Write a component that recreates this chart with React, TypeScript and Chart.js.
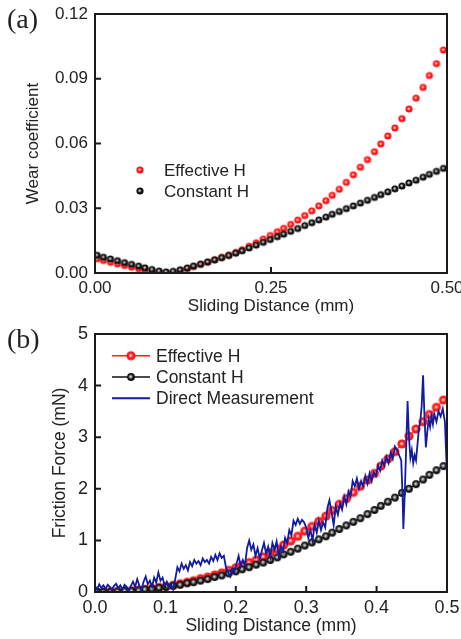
import { useEffect, useRef } from 'react';
import { Chart, registerables } from 'chart.js';

Chart.register(...registerables);
Chart.defaults.font.family = '"Liberation Sans", Arial, sans-serif';
Chart.defaults.color = '#222';

// ---------- data ----------
const slidingDistance = [
  0.003, 0.012, 0.022, 0.032, 0.042, 0.052, 0.062, 0.071, 0.081, 0.091,
  0.101, 0.111, 0.121, 0.131, 0.140, 0.150, 0.160, 0.170, 0.180, 0.190,
  0.200, 0.209, 0.219, 0.229, 0.239, 0.249, 0.259, 0.268, 0.278, 0.288,
  0.298, 0.308, 0.318, 0.328, 0.337, 0.347, 0.357, 0.367, 0.377, 0.387,
  0.397, 0.406, 0.416, 0.426, 0.436, 0.446, 0.456, 0.466, 0.475, 0.485,
  0.495,
];

const wearEffective = [
  0.0066, 0.0058, 0.0050, 0.0042, 0.0035, 0.0027, 0.0020, 0.0013, 0.0006, 0.0001,
  0.0000, 0.0001, 0.0011, 0.0020, 0.0030, 0.0040, 0.0050, 0.0061, 0.0072, 0.0083,
  0.0095, 0.0108, 0.0124, 0.0140, 0.0157, 0.0174, 0.0191, 0.0207, 0.0225, 0.0245,
  0.0266, 0.0288, 0.0311, 0.0335, 0.0360, 0.0388, 0.0420, 0.0455, 0.0490, 0.0525,
  0.0562, 0.0598, 0.0635, 0.0672, 0.0715, 0.0760, 0.0810, 0.0860, 0.0915, 0.0970,
  0.1033,
];

const wearConstant = [
  0.0082, 0.0073, 0.0065, 0.0057, 0.0048, 0.0040, 0.0032, 0.0024, 0.0016, 0.0009,
  0.0005, 0.0008, 0.0015, 0.0023, 0.0032, 0.0041, 0.0051, 0.0061, 0.0071, 0.0081,
  0.0092, 0.0103, 0.0116, 0.0129, 0.0142, 0.0155, 0.0168, 0.0180, 0.0193, 0.0206,
  0.0220, 0.0233, 0.0246, 0.0259, 0.0272, 0.0285, 0.0298, 0.0311, 0.0324, 0.0337,
  0.0350, 0.0363, 0.0376, 0.0390, 0.0403, 0.0417, 0.0430, 0.0444, 0.0457, 0.0471,
  0.0485,
];

const frictionEffective = [
  0.00, 0.00, 0.01, 0.01, 0.02, 0.03, 0.04, 0.05, 0.07, 0.09,
  0.11, 0.13, 0.16, 0.19, 0.22, 0.26, 0.29, 0.33, 0.37, 0.42,
  0.47, 0.52, 0.57, 0.62, 0.68, 0.76, 0.83, 0.91, 0.99, 1.08,
  1.18, 1.27, 1.37, 1.47, 1.58, 1.70, 1.81, 1.93, 2.05, 2.17,
  2.30, 2.44, 2.58, 2.72, 2.87, 3.02, 3.16, 3.30, 3.44, 3.58,
  3.72,
];

const frictionConstant = [
  0.00, 0.00, 0.00, 0.01, 0.02, 0.02, 0.03, 0.05, 0.06, 0.08,
  0.10, 0.12, 0.14, 0.17, 0.19, 0.22, 0.25, 0.29, 0.32, 0.36,
  0.40, 0.44, 0.48, 0.53, 0.57, 0.62, 0.67, 0.73, 0.78, 0.84,
  0.90, 0.96, 1.02, 1.08, 1.15, 1.22, 1.29, 1.36, 1.43, 1.51,
  1.59, 1.67, 1.75, 1.83, 1.92, 2.00, 2.09, 2.18, 2.27, 2.36,
  2.44,
];

const directX = [
  0.000, 0.003, 0.006, 0.009, 0.012, 0.015, 0.018, 0.021, 0.024, 0.027,
  0.030, 0.033, 0.036, 0.039, 0.042, 0.045, 0.048, 0.051, 0.054, 0.057,
  0.060, 0.063, 0.066, 0.069, 0.072, 0.075, 0.078, 0.081, 0.084, 0.087,
  0.090, 0.093, 0.096, 0.099, 0.102, 0.105, 0.108, 0.111, 0.114, 0.117,
  0.120, 0.123, 0.126, 0.129, 0.132, 0.135, 0.138, 0.141, 0.144, 0.147,
  0.150, 0.153, 0.156, 0.159, 0.162, 0.165, 0.168, 0.171, 0.174, 0.177,
  0.180, 0.183, 0.186, 0.189, 0.192, 0.195, 0.198, 0.201, 0.204, 0.207,
  0.210, 0.213, 0.216, 0.219, 0.222, 0.225, 0.228, 0.231, 0.234, 0.237,
  0.240, 0.243, 0.246, 0.249, 0.252, 0.255, 0.258, 0.261, 0.264, 0.267,
  0.270, 0.273, 0.276, 0.279, 0.282, 0.285, 0.288, 0.291, 0.294, 0.297,
  0.300, 0.303, 0.306, 0.309, 0.312, 0.315, 0.318, 0.321, 0.324, 0.327,
  0.330, 0.333, 0.336, 0.339, 0.342, 0.345, 0.348, 0.351, 0.354, 0.357,
  0.360, 0.363, 0.366, 0.369, 0.372, 0.375, 0.378, 0.381, 0.384, 0.387,
  0.390, 0.393, 0.396, 0.399, 0.402, 0.405, 0.408, 0.411, 0.414, 0.417,
  0.420, 0.423, 0.426, 0.429, 0.432, 0.435, 0.437, 0.438, 0.440, 0.442,
  0.444, 0.446, 0.448, 0.450, 0.452, 0.454, 0.456, 0.458, 0.460, 0.462,
  0.464, 0.466, 0.468, 0.470, 0.472, 0.474, 0.476, 0.478, 0.480, 0.482,
  0.485, 0.488, 0.491, 0.494, 0.497, 0.500,
];

const directY = [
  0.12, 0.05, 0.15, 0.08, 0.13, 0.06, 0.14, 0.10, 0.04, 0.12,
  0.16, 0.08, 0.13, 0.05, 0.14, 0.10, 0.03, 0.12, 0.20, 0.10,
  0.25, 0.12, 0.05, 0.20, 0.30, 0.15, 0.22, 0.10, 0.28, 0.18,
  0.38, 0.22, 0.28, 0.12, 0.20, 0.08, 0.15, 0.05, 0.25, 0.48,
  0.40, 0.55, 0.45, 0.52, 0.42, 0.58, 0.50, 0.62, 0.55, 0.60,
  0.52, 0.65, 0.58, 0.62, 0.55, 0.68, 0.60, 0.72, 0.62, 0.75,
  0.66, 0.70, 0.48, 0.38, 0.30, 0.45, 0.38, 0.55, 0.70, 0.50,
  0.62, 0.52, 0.85, 1.00, 0.82, 0.92, 0.70, 0.85, 0.65, 0.80,
  0.95, 0.75, 0.88, 0.68, 0.95, 0.82, 0.98, 0.70, 0.88, 0.78,
  1.05, 0.95, 1.20, 1.10, 1.38, 1.30, 1.42, 1.32, 1.40, 1.35,
  1.25, 1.05, 1.20, 1.00, 1.30, 1.15, 1.38, 1.20, 1.35, 1.25,
  1.62, 1.78, 1.55, 1.30, 1.65, 1.50, 1.72, 1.60, 1.85, 1.70,
  1.95, 1.85, 2.15, 2.05, 2.20, 2.00, 2.15, 2.05, 2.25, 2.10,
  2.30, 2.15, 2.32, 2.25, 2.45, 2.35, 2.55, 2.45, 2.62, 2.50,
  2.70, 2.58, 2.82, 2.75, 2.65, 2.55, 1.80, 1.22, 1.90, 2.80,
  3.70, 3.00, 2.60, 2.75, 2.50, 2.65, 2.55, 2.85, 3.15, 3.30,
  3.60, 4.20, 3.40, 2.80, 3.10, 3.35, 3.20, 3.40, 3.25, 3.45,
  3.30, 3.50, 3.40, 3.55, 3.30, 2.25,
];

const wearXTicks = [0, 0.25, 0.5];
const wearYTicks = [0, 0.03, 0.06, 0.09, 0.12];
const frictionXTicks = [0, 0.1, 0.2, 0.3, 0.4, 0.5];
const frictionYTicks = [0, 1, 2, 3, 4, 5];

// ---------- helpers ----------
function makeBall(r: number, base: string, hl: string, hlR: number) {
  const c = document.createElement('canvas');
  const s = Math.ceil(r * 2 + 2);
  c.width = s;
  c.height = s;
  const g = c.getContext('2d')!;
  const cx = s / 2;
  g.beginPath();
  g.arc(cx, cx, r, 0, Math.PI * 2);
  g.fillStyle = base;
  g.fill();
  const grad = g.createRadialGradient(cx - 0.3, cx - 0.3, 0, cx - 0.3, cx - 0.3, hlR);
  grad.addColorStop(0, hl);
  grad.addColorStop(1, 'rgba(255,255,255,0)');
  g.beginPath();
  g.arc(cx, cx, r, 0, Math.PI * 2);
  g.fillStyle = grad;
  g.fill();
  return c;
}

const framePlugin = {
  id: 'frameTicks',
  afterDraw(chart: any, _args: any, opts: any) {
    const { ctx, chartArea } = chart;
    const { left, top, right, bottom } = chartArea;
    const xs = chart.scales.x;
    const ys = chart.scales.y;
    ctx.save();
    ctx.strokeStyle = '#1a1a1a';
    ctx.lineWidth = 2;
    ctx.beginPath();
    (opts.xTicks || []).forEach((v: number) => {
      const p = xs.getPixelForValue(v);
      if (p - left < 2 || right - p < 2) return;
      ctx.moveTo(p, bottom);
      ctx.lineTo(p, bottom - 6);
    });
    (opts.yTicks || []).forEach((v: number) => {
      const p = ys.getPixelForValue(v);
      if (p - top < 2 || bottom - p < 2) return;
      ctx.moveTo(left, p);
      ctx.lineTo(left + 6, p);
    });
    ctx.stroke();
    ctx.strokeRect(left, top, right - left, bottom - top);
    ctx.restore();
  },
};

const legendPlugin = {
  id: 'innerLegend',
  afterDraw(chart: any, _args: any, opts: any) {
    if (!opts || !opts.display) return;
    const { ctx, chartArea } = chart;
    ctx.save();
    ctx.font = `${opts.fontSize}px "Liberation Sans", Arial, sans-serif`;
    ctx.textBaseline = 'middle';
    ctx.fillStyle = '#222';
    chart.data.datasets.forEach((ds: any, i: number) => {
      const y = chartArea.top + opts.y + i * opts.spacing;
      const x0 = chartArea.left + opts.x;
      if (opts.lines) {
        ctx.strokeStyle = ds.borderColor;
        ctx.lineWidth = ds.legendLineWidth || 1.5;
        ctx.beginPath();
        ctx.moveTo(x0, y);
        ctx.lineTo(x0 + opts.lineLen, y);
        ctx.stroke();
      }
      if (ds.pointStyle && typeof ds.pointStyle !== 'string') {
        const img = ds.pointStyle;
        const mx = opts.lines ? x0 + opts.lineLen / 2 : x0;
        ctx.drawImage(img, mx - img.width / 2, y - img.height / 2);
      }
      ctx.fillStyle = '#222';
      ctx.fillText(ds.label, chartArea.left + opts.textX, y + 1);
    });
    ctx.restore();
  },
};

function baseScales(o: any) {
  return {
    x: {
      type: 'linear',
      min: 0,
      max: 0.5,
      afterBuildTicks: (s: any) => {
        s.ticks = o.xTicks.map((v: number) => ({ value: v }));
      },
      ticks: {
        autoSkip: false,
        maxRotation: 0,
        padding: 5,
        color: '#222',
        font: { size: o.tickSize },
        callback: (v: any) => Number(v).toFixed(o.xDec),
      },
      grid: { display: false, drawTicks: false },
      border: { display: false },
      title: {
        display: true,
        text: 'Sliding Distance (mm)',
        color: '#222',
        font: { size: o.titleSize },
        padding: { top: 0, bottom: o.xTitlePad },
      },
      afterFit: (s: any) => {
        s.height = 47;
        s.paddingLeft = 0;
        s.paddingRight = 0;
      },
    },
    y: {
      type: 'linear',
      min: o.yMin,
      max: o.yMax,
      afterBuildTicks: (s: any) => {
        s.ticks = o.yTicks.map((v: number) => ({ value: v }));
      },
      ticks: {
        autoSkip: false,
        padding: 7,
        color: '#222',
        font: { size: o.tickSize },
        callback: (v: any) => Number(v).toFixed(o.yDec),
      },
      grid: { display: false, drawTicks: false },
      border: { display: false },
      title: {
        display: true,
        text: o.yTitle,
        color: '#222',
        font: { size: o.titleSize },
        padding: { top: o.yTitlePad, bottom: 0 },
      },
      afterFit: (s: any) => {
        s.width = 95;
        s.paddingTop = 0;
        s.paddingBottom = 0;
      },
    },
  };
}

export default function App() {
  const refA = useRef<HTMLCanvasElement>(null);
  const refB = useRef<HTMLCanvasElement>(null);

  useEffect(() => {
    const redA = makeBall(3.6, '#ff1414', 'rgba(255,225,225,1)', 2.0);
    const blackA = makeBall(3.6, '#111111', 'rgba(235,235,235,1)', 2.0);
    const redB = makeBall(4.6, '#ff1a1a', 'rgba(255,230,230,1)', 2.4);
    const blackB = makeBall(3.9, '#111111', 'rgba(245,245,245,1)', 2.6);

    const chartA = new Chart(refA.current!, {
      type: 'scatter',
      data: {
        datasets: [
          {
            label: 'Effective H',
            data: slidingDistance.map((x, i) => ({ x, y: wearEffective[i] })),
            showLine: false,
            pointStyle: redA as any,
            pointRadius: 3.6,
            borderColor: '#ff1414',
            order: 2,
          },
          {
            label: 'Constant H',
            data: slidingDistance.map((x, i) => ({ x, y: wearConstant[i] })),
            showLine: false,
            pointStyle: blackA as any,
            pointRadius: 3.6,
            borderColor: '#111',
            order: 1,
          },
        ],
      },
      options: {
        animation: false,
        responsive: false,
        events: [],
        layout: { padding: { top: 14, right: 14, left: 0, bottom: 0 } },
        plugins: {
          legend: { display: false },
          tooltip: { enabled: false },
          frameTicks: { xTicks: wearXTicks, yTicks: wearYTicks },
          innerLegend: { display: true, x: 45, y: 156, spacing: 21, textX: 69, fontSize: 17, lines: false },
        } as any,
        scales: baseScales({
          xTicks: wearXTicks,
          yTicks: wearYTicks,
          yMin: 0,
          yMax: 0.12,
          xDec: 2,
          yDec: 2,
          tickSize: 17,
          titleSize: 17,
          yTitle: 'Wear coefficient',
          yTitlePad: 23,
          xTitlePad: 3,
        }) as any,
      },
      plugins: [framePlugin, legendPlugin],
    });

    const chartB = new Chart(refB.current!, {
      type: 'scatter',
      data: {
        datasets: [
          {
            label: 'Effective H',
            data: slidingDistance.map((x, i) => ({ x, y: frictionEffective[i] })),
            showLine: true,
            borderColor: '#ff2020',
            borderWidth: 1,
            pointStyle: redB as any,
            pointRadius: 4.6,
            order: 3,
          },
          {
            label: 'Constant H',
            data: slidingDistance.map((x, i) => ({ x, y: frictionConstant[i] })),
            showLine: true,
            borderColor: '#111111',
            borderWidth: 1,
            pointStyle: blackB as any,
            pointRadius: 3.9,
            order: 2,
          },
          {
            label: 'Direct Measurement',
            data: directX.map((x, i) => ({ x, y: directY[i] })),
            showLine: true,
            borderColor: '#111ca0',
            borderWidth: 1.8,
            pointRadius: 0,
            legendLineWidth: 2,
            order: 1,
          } as any,
        ],
      },
      options: {
        animation: false,
        responsive: false,
        events: [],
        layout: { padding: { top: 14, right: 14, left: 0, bottom: 0 } },
        plugins: {
          legend: { display: false },
          tooltip: { enabled: false },
          frameTicks: { xTicks: frictionXTicks, yTicks: frictionYTicks },
          innerLegend: { display: true, x: 17, y: 21.7, spacing: 21.3, textX: 61, lineLen: 38, fontSize: 17.5, lines: true },
        } as any,
        scales: baseScales({
          xTicks: frictionXTicks,
          yTicks: frictionYTicks,
          yMin: 0,
          yMax: 5,
          xDec: 1,
          yDec: 0,
          tickSize: 18,
          titleSize: 17.5,
          yTitle: 'Friction Force (mN)',
          yTitlePad: 49.5,
          xTitlePad: 2.5,
        }) as any,
      },
      plugins: [framePlugin, legendPlugin],
    });

    return () => {
      chartA.destroy();
      chartB.destroy();
    };
  }, []);

  const labelStyle: any = {
    position: 'absolute',
    left: 7,
    fontFamily: '"Liberation Serif", "Times New Roman", serif',
    fontSize: 28,
    lineHeight: '28px',
    color: '#222',
  };

  return (
    <div style={{ position: 'absolute', left: 0, top: 0, width: 461, height: 639, background: '#fff' }}>
      <canvas ref={refA} width={461} height={320} style={{ position: 'absolute', left: 0, top: 0, width: 461, height: 320 }} />
      <canvas ref={refB} width={461} height={319} style={{ position: 'absolute', left: 0, top: 320, width: 461, height: 319 }} />
      <div style={{ ...labelStyle, top: 5 }}>(a)</div>
      <div style={{ ...labelStyle, top: 325 }}>(b)</div>
    </div>
  );
}
